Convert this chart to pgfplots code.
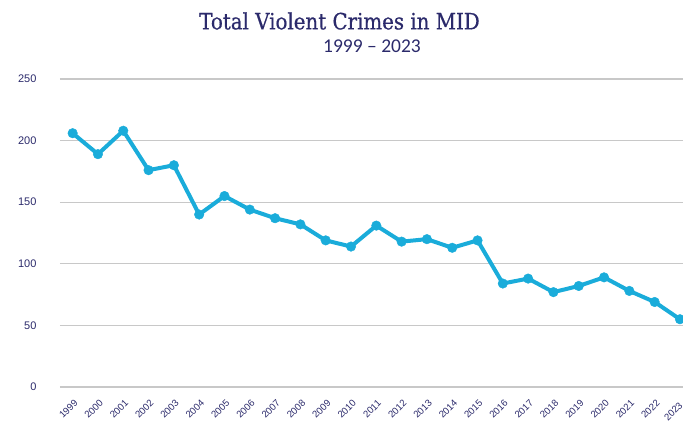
\documentclass[border=0pt]{standalone}
\usepackage{pgfplots}
\pgfplotsset{compat=1.18}
\usepackage{fontspec}
\setmainfont{Liberation Sans}
\newfontfamily\titlefont[FakeStretch=0.88, FakeBold=0.6]{DejaVu Serif}
\newfontfamily\subfont{Carlito}
\definecolor{navy}{HTML}{2B2A6B}
\definecolor{linec}{HTML}{1AACDA}
\definecolor{gridc}{HTML}{C8C8C8}
\begin{document}
\begin{tikzpicture}
\useasboundingbox (-60pt,-36pt) rectangle (623pt,387pt);
\begin{axis}[
  scale only axis,
  width=623pt, height=308pt,
  xmin=-0.5, xmax=24.12,
  ymin=0, ymax=250,
  ytick={0,50,100,150,200,250},
  xtick={0,...,24},
  xticklabels={1999,2000,2001,2002,2003,2004,2005,2006,2007,2008,2009,2010,2011,2012,2013,2014,2015,2016,2017,2018,2019,2020,2021,2022,2023\kern7pt},
  axis line style={draw=none},
  ymajorgrids,
  grid style={gridc, line width=1.3pt},
  major tick length=0pt,
  tick style={draw=none},
  /pgf/number format/assume math mode=true,
  yticklabel style={font=\fontsize{11}{12}\selectfont, text=navy, anchor=east, xshift=-20pt},
  xticklabel style={font=\fontsize{9.6}{11}\selectfont, text=navy, rotate=45, anchor=center, xshift=-3pt, yshift=3pt},
  xticklabel shift=22pt,
  clip=false,
]
\addplot[linec, line width=4pt, mark=*, mark size=4.8pt, mark options={solid, fill=linec, draw=linec, line width=0.4pt}]
coordinates {
(0,206) (1,189) (2,208) (3,176) (4,180) (5,140) (6,155) (7,144) (8,137) (9,132)
(10,119) (11,114) (12,131) (13,118) (14,120) (15,113) (16,119) (17,84) (18,88)
(19,77) (20,82) (21,89) (22,78) (23,69) (24,55)
};
\end{axis}
\node[text=navy, font=\titlefont\fontsize{22.5}{25}\selectfont] at (279.5pt,366pt) {Total Violent Crimes in MID};
\node[text=navy, font=\subfont\fontsize{19.5}{22}\selectfont] at (312pt,341pt) {1999 – 2023};
\end{tikzpicture}
\end{document}
